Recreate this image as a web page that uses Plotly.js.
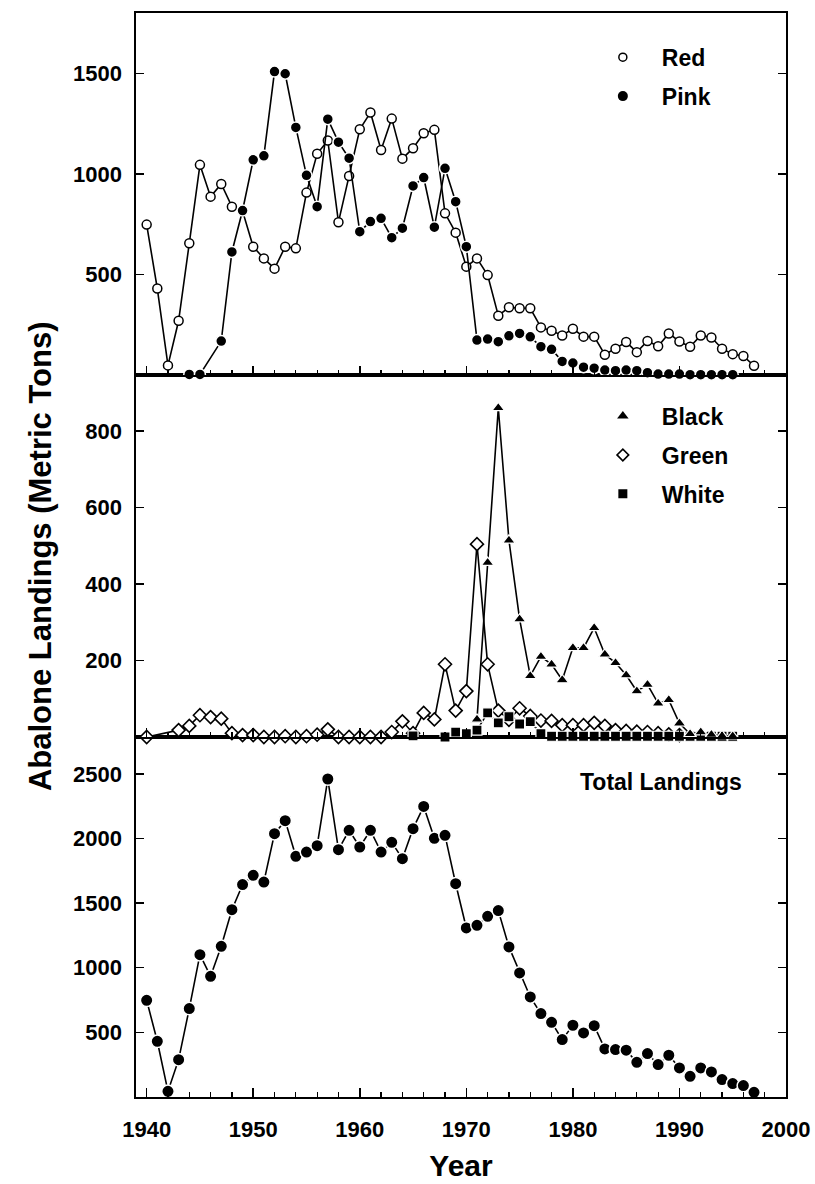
<!DOCTYPE html>
<html>
<head>
<meta charset="utf-8">
<script src="https://cdn.plot.ly/plotly-3.0.1.min.js"></script>
<style>
html,body{margin:0;padding:0;background:#ffffff;}
#chart{width:815px;height:1184px;}
</style>
</head>
<body>
<div id="chart"></div>
<script>
// ---- data (metric tons), one value per year 1940..1997 ----
const years = [1940,1941,1942,1943,1944,1945,1946,1947,1948,1949,
  1950,1951,1952,1953,1954,1955,1956,1957,1958,1959,
  1960,1961,1962,1963,1964,1965,1966,1967,1968,1969,
  1970,1971,1972,1973,1974,1975,1976,1977,1978,1979,
  1980,1981,1982,1983,1984,1985,1986,1987,1988,1989,
  1990,1991,1992,1993,1994,1995,1996,1997];

const red = [748,430,48,270,655,1045,887,950,837,815,
  638,580,529,638,630,907,1100,1166,760,990,
  1222,1305,1119,1275,1076,1128,1202,1219,804,708,
  539,580,497,295,337,332,332,237,220,197,
  230,191,191,101,131,164,114,169,143,207,
  167,141,197,187,131,104,95,46];

const pink = [null,null,null,null,3,3,null,169,612,818,
  1070,1090,1509,1498,1231,993,837,1272,1158,1078,
  713,763,779,683,730,940,982,735,1028,862,
  638,174,179,166,195,207,190,141,128,68,
  60,39,34,25,22,25,22,12,5,5,
  5,2,2,2,2,2,null,null];

const black = [null,null,null,null,null,null,null,null,null,null,
  null,null,null,null,null,null,null,null,null,null,
  null,null,null,null,null,null,null,null,null,null,
  null,46,456,860,514,308,160,210,190,149,
  233,233,285,216,194,162,120,137,88,97,
  36,8,13,6,3,2,null,null];

const green = [0,null,null,18,29,57,52,48,10,5,
  5,0,0,2,0,2,6,20,0,0,
  0,0,0,13,41,10,63,46,190,69,
  120,504,190,69,45,75,55,43,42,31,
  31,31,37,29,18,16,14,13,10,7,
  5,null,null,null,null,null,null,null];

const white = [null,null,null,null,null,null,null,null,null,null,
  null,null,null,null,null,null,null,null,null,null,
  null,null,null,null,null,3,null,null,0,13,
  9,18,63,37,53,34,40,9,2,2,
  2,2,2,2,2,2,2,2,2,2,
  2,2,2,2,2,2,null,null];

const total = [748,431,44,289,684,1101,934,1166,1449,1643,
  1715,1663,2037,2138,1862,1895,1944,2460,1913,2063,
  1934,2063,1895,1970,1844,2076,2248,2001,2024,1650,
  1308,1328,1398,1442,1161,960,774,645,578,444,
  555,496,552,372,367,362,268,336,251,323,
  225,160,225,194,135,104,88,36];

// ---- tick labels ----
const xTicks = [1940,1950,1960,1970,1980,1990,2000];
const topTicks = [500,1000,1500];
const midTicks = [200,400,600,800];
const botTicks = [500,1000,1500,2000,2500];

// ---- text ----
const yTitle = 'Abalone Landings (Metric Tons)';
const xTitle = 'Year';
const totalLabel = 'Total Landings';

const FONT = 'Liberation Sans, Arial, Helvetica, sans-serif';
const lineStyle = {color:'#000', width:1.6};

function series(y, name, marker, xa, ya){
  return {x:years, y:y, name:name, type:'scatter', mode:'lines+markers',
    connectgaps:true, cliponaxis:false, line:lineStyle, marker:marker,
    xaxis:xa, yaxis:ya, showlegend:false, hoverinfo:'x+y+name'};
}
function key(name, marker, legend, xa, ya){
  return {x:[null], y:[null], name:name, type:'scatter', mode:'markers',
    marker:marker, legend:legend, legendgroup:name, showlegend:true,
    xaxis:xa, yaxis:ya, hoverinfo:'skip'};
}

const mOpen = {symbol:'circle', size:9, color:'#fff', line:{color:'#000', width:1.5}};
const mFill = {symbol:'circle', size:11, color:'#000', line:{color:'#fff', width:1.5}};
const mTri = {symbol:'triangle-up', size:11, color:'#000', line:{color:'#fff', width:1.2}};
const mDia = {symbol:'diamond', size:10, color:'#fff', line:{color:'#000', width:1.6}};
const mSq = {symbol:'square', size:10, color:'#000', line:{color:'#fff', width:1.2}};
const mTot = {symbol:'circle', size:12.5, color:'#000', line:{color:'#fff', width:1.5}};

const traces = [
  series(red, 'Red', mOpen, 'x3', 'y3'),
  series(pink, 'Pink', mFill, 'x3', 'y3'),
  series(green, 'Green', mDia, 'x2', 'y2'),
  series(white, 'White', mSq, 'x2', 'y2'),
  series(black, 'Black', mTri, 'x2', 'y2'),
  series(total, 'Total', mTot, 'x', 'y'),
  key('Red', {symbol:'circle', size:8, color:'#fff', line:{color:'#000', width:1.5}}, 'legend', 'x3', 'y3'),
  key('Pink', {symbol:'circle', size:10, color:'#000'}, 'legend', 'x3', 'y3'),
  key('Black', {symbol:'triangle-up', size:10, color:'#000'}, 'legend2', 'x2', 'y2'),
  key('Green', {symbol:'diamond', size:9, color:'#fff', line:{color:'#000', width:1.6}}, 'legend2', 'x2', 'y2'),
  key('White', {symbol:'square', size:9, color:'#000'}, 'legend2', 'x2', 'y2')
];

const tickFont = {family:FONT, size:22, color:'#000', weight:'bold'};

function xAxis(showLabels, extra){
  return Object.assign({
    range:[1939,2000], tickmode:'array', tickvals:xTicks,
    ticks:'inside', ticklen:9, tickwidth:1.5, tickcolor:'#000',
    minor:{tick0:1940, dtick:2, ticks:'inside', ticklen:5, tickwidth:1.2, tickcolor:'#000'},
    showline:true, linecolor:'#000', linewidth:1.6, mirror:true,
    showgrid:false, zeroline:false, showticklabels:showLabels,
    tickfont:tickFont, ticklabelstandoff:12
  }, extra||{});
}
function yAxis(range, tv, domain){
  return {
    range:range, domain:domain, tickmode:'array', tickvals:tv,
    ticks:'inside', ticklen:8, tickwidth:1.5, tickcolor:'#000',
    showline:true, linecolor:'#000', linewidth:1.6, mirror:'ticks',
    showgrid:false, zeroline:false, tickfont:tickFont, ticklabelstandoff:8
  };
}

const legendFont = {family:FONT, size:23, color:'#000', weight:'bold'};

const layout = {
  width:815, height:1184,
  margin:{l:136, r:29, t:13, b:87},
  paper_bgcolor:'#fff', plot_bgcolor:'#fff',
  font:{family:FONT, color:'#000'},
  xaxis: xAxis(true, {anchor:'y', title:{text:xTitle, font:{family:FONT, size:30, color:'#000', weight:'bold'}, standoff:14}}),
  xaxis2: xAxis(false, {anchor:'y2', matches:'x'}),
  xaxis3: xAxis(false, {anchor:'y3', matches:'x'}),
  yaxis: yAxis([0,2785], botTicks, [0,0.3321]),
  yaxis2: yAxis([0,946], midTicks, [0.3321,0.666]),
  yaxis3: yAxis([0,1800], topTicks, [0.666,1]),
  legend:{x:0.689, y:0.979, xanchor:'left', yanchor:'top', bgcolor:'rgba(0,0,0,0)',
    font:legendFont, itemwidth:68, traceorder:'grouped', tracegroupgap:6, borderwidth:0},
  legend2:{x:0.689, y:0.648, xanchor:'left', yanchor:'top', bgcolor:'rgba(0,0,0,0)',
    font:legendFont, itemwidth:68, traceorder:'grouped', tracegroupgap:6, borderwidth:0},
  annotations:[
    {text:totalLabel, xref:'paper', yref:'paper', x:0.808, y:0.2906, xanchor:'center', yanchor:'middle',
      showarrow:false, font:legendFont},
    {text:yTitle, xref:'paper', yref:'paper', x:-0.1477, y:0.499, xanchor:'center', yanchor:'middle',
      textangle:-90, showarrow:false, font:{family:FONT, size:31, color:'#000', weight:'bold'}}
  ],
  showlegend:true
};

Plotly.newPlot('chart', traces, layout, {displayModeBar:false, staticPlot:true});
</script>
</body>
</html>
